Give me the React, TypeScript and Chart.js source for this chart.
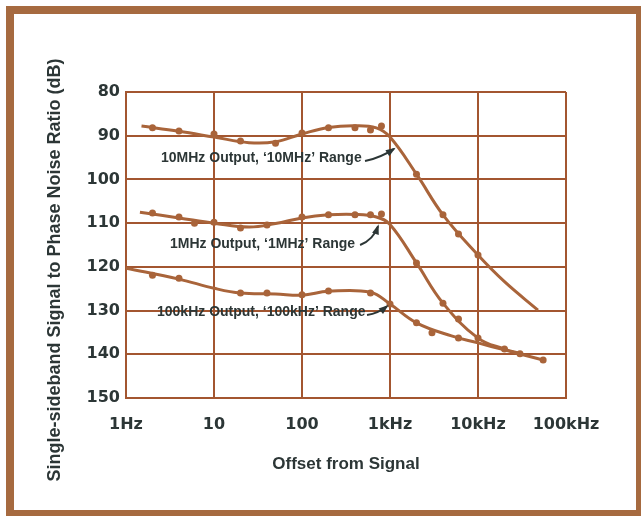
import React, { useEffect, useRef } from "react";
import { Chart, registerables } from "chart.js";

Chart.register(...registerables);

// ---- data (frequency in Hz, ratio in dB) ----
const xTickValues = [1, 10, 100, 1000, 10000, 100000];
const xTickLabels = ["1Hz", "10", "100", "1kHz", "10kHz", "100kHz"];
const yTickValues = [80, 90, 100, 110, 120, 130, 140, 150];

// smooth fitted curves
const curve10MHzFreq = [1.5, 4, 10, 25, 50, 100, 200, 400, 700, 1000, 2000, 4000, 10000, 20000, 48000];
const curve10MHzDb = [87.8, 89.0, 90.3, 91.6, 91.4, 89.6, 88.1, 87.7, 88.2, 90.3, 98.8, 108.1, 117.3, 123.4, 129.9];

const curve1MHzFreq = [1.44, 4, 10, 25, 50, 100, 200, 400, 700, 1000, 2000, 4000, 10000, 20000, 30000];
const curve1MHzDb = [107.5, 108.8, 110.0, 110.9, 110.1, 108.8, 108.1, 108.0, 108.6, 110.3, 119.1, 128.3, 136.3, 138.8, 139.8];

const curve100kHzFreq = [1, 4, 10, 20, 50, 100, 200, 600, 1000, 2000, 5000, 10000, 20000, 55000];
const curve100kHzDb = [120.3, 122.8, 124.9, 126.0, 126.2, 126.5, 125.6, 125.8, 128.5, 132.8, 135.8, 137.4, 139.0, 141.3];

// measured points
const pts10MHzFreq = [2, 4, 10, 20, 50, 100, 200, 400, 600, 800, 2000, 4000, 6000, 10000];
const pts10MHzDb = [88.2, 88.9, 89.6, 91.2, 91.7, 89.4, 88.2, 88.2, 88.7, 87.8, 98.8, 108.1, 112.5, 117.3];

const pts1MHzFreq = [2, 4, 6, 10, 20, 40, 100, 200, 400, 600, 800, 2000, 4000, 6000, 10000];
const pts1MHzDb = [107.7, 108.6, 110.0, 109.8, 111.1, 110.4, 108.6, 108.1, 108.1, 108.1, 107.9, 119.1, 128.3, 131.9, 136.3];

const pts100kHzFreq = [2, 4, 20, 40, 100, 200, 600, 1000, 2000, 3000, 6000, 20000, 30000, 55000];
const pts100kHzDb = [121.9, 122.6, 126.0, 126.0, 126.4, 125.5, 126.0, 128.5, 132.8, 135.1, 136.3, 138.8, 139.9, 141.3];

const yTitle = "Single-sideband Signal to Phase Noise Ratio (dB)";
const xTitle = "Offset from Signal";

// annotation labels: text, anchor freq/dB (left, middle)
const noteTexts = ["10MHz Output, \u201810MHz\u2019 Range", "1MHz Output, \u20181MHz\u2019 Range", "100kHz Output, \u2018100kHz\u2019 Range"];
const noteFreq = [2.5, 3.16, 2.25];
const noteDb = [95.1, 114.8, 130.3];
// arrows: tail & tip (freq, dB), bend in px
const arrowTailFreq = [520, 457, 548];
const arrowTailDb = [95.8, 115.0, 131.0];
const arrowTipFreq = [1110, 731, 925];
const arrowTipDb = [93.0, 110.7, 129.0];
const arrowBend = [3, 6, 3];

const BROWN = "#a9643a";
const GRID = "#a35630";
const TEXT = "#2c3636";
const FRAME = "#a66a40";

const zip = (xs: number[], ys: number[]) => xs.map((x, i) => ({ x, y: ys[i] }));

const overlay = {
  id: "overlay",
  afterDraw(chart: any) {
    const { ctx, scales } = chart;
    const x = scales.x;
    const y = scales.y;
    ctx.save();
    // y-axis title
    ctx.save();
    ctx.translate(55, 270);
    ctx.rotate(-Math.PI / 2);
    ctx.font = 'bold 18px "Liberation Sans", Arial, sans-serif';
    ctx.fillStyle = TEXT;
    ctx.textAlign = "center";
    ctx.textBaseline = "middle";
    ctx.fillText(yTitle, 0, 0);
    ctx.restore();

    // notes
    ctx.font = 'bold 14px "Liberation Sans", Arial, sans-serif';
    ctx.fillStyle = TEXT;
    ctx.textAlign = "left";
    ctx.textBaseline = "middle";
    noteTexts.forEach((t, i) => {
      ctx.fillText(t, x.getPixelForValue(noteFreq[i]), y.getPixelForValue(noteDb[i]));
    });

    // arrows
    ctx.strokeStyle = TEXT;
    ctx.lineWidth = 2;
    arrowTailFreq.forEach((_, i) => {
      const x0 = x.getPixelForValue(arrowTailFreq[i]);
      const y0 = y.getPixelForValue(arrowTailDb[i]);
      const x1 = x.getPixelForValue(arrowTipFreq[i]);
      const y1 = y.getPixelForValue(arrowTipDb[i]);
      const mx = (x0 + x1) / 2;
      const my = (y0 + y1) / 2;
      const dx = x1 - x0;
      const dy = y1 - y0;
      const len = Math.hypot(dx, dy);
      const cx = mx - (dy / len) * arrowBend[i];
      const cy = my + (dx / len) * arrowBend[i];
      ctx.beginPath();
      ctx.moveTo(x0, y0);
      ctx.quadraticCurveTo(cx, cy, x1, y1);
      ctx.stroke();
      const ang = Math.atan2(y1 - cy, x1 - cx);
      const hl = 8;
      const hw = 3.5;
      ctx.beginPath();
      ctx.moveTo(x1 + Math.cos(ang) * 2, y1 + Math.sin(ang) * 2);
      ctx.lineTo(x1 - Math.cos(ang) * hl - Math.sin(ang) * hw, y1 - Math.sin(ang) * hl + Math.cos(ang) * hw);
      ctx.lineTo(x1 - Math.cos(ang) * hl + Math.sin(ang) * hw, y1 - Math.sin(ang) * hl - Math.cos(ang) * hw);
      ctx.closePath();
      ctx.fillStyle = TEXT;
      ctx.fill();
    });
    ctx.restore();
  },
};

export default function App() {
  const ref = useRef<HTMLCanvasElement | null>(null);

  useEffect(() => {
    if (!ref.current) return;
    const lineDs = (xs: number[], ys: number[]) => ({
      type: "line" as const,
      data: zip(xs, ys),
      borderColor: BROWN,
      borderWidth: 3,
      pointRadius: 0,
      tension: 0.4,
      fill: false,
    });
    const ptDs = (xs: number[], ys: number[]) => ({
      type: "scatter" as const,
      data: zip(xs, ys),
      backgroundColor: BROWN,
      borderColor: BROWN,
      pointRadius: 3.5,
      borderWidth: 0,
      showLine: false,
    });
    const chart = new Chart(ref.current, {
      type: "line",
      data: {
        datasets: [
          lineDs(curve10MHzFreq, curve10MHzDb),
          lineDs(curve1MHzFreq, curve1MHzDb),
          lineDs(curve100kHzFreq, curve100kHzDb),
          ptDs(pts10MHzFreq, pts10MHzDb),
          ptDs(pts1MHzFreq, pts1MHzDb),
          ptDs(pts100kHzFreq, pts100kHzDb),
        ] as any,
      },
      options: {
        animation: false,
        responsive: false,
        maintainAspectRatio: false,
        layout: { padding: { top: 92, right: 75, bottom: 0, left: 0 } },
        plugins: { legend: { display: false }, tooltip: { enabled: false } },
        scales: {
          x: {
            type: "logarithmic",
            min: 1,
            max: 100000,
            afterBuildTicks: (s: any) => {
              s.ticks = xTickValues.map((v) => ({ value: v }));
            },
            afterFit: (s: any) => {
              s.height = 118;
            },
            ticks: {
              autoSkip: false,
              maxRotation: 0,
              padding: 17,
              color: TEXT,
              font: { family: '"DejaVu Sans", sans-serif', weight: "bold", size: 16 },
              callback: (v: any) => {
                const i = xTickValues.indexOf(Number(v));
                return i >= 0 ? xTickLabels[i] : "";
              },
            },
            grid: { color: GRID, lineWidth: 2, drawTicks: false },
            border: { display: true, color: GRID, width: 2 },
            title: {
              display: true,
              text: xTitle,
              color: TEXT,
              font: { family: '"Liberation Sans", Arial, sans-serif', weight: "bold", size: 17 },
              padding: { top: 0, bottom: 41 },
            },
          },
          y: {
            type: "linear",
            reverse: true,
            min: 80,
            max: 150,
            afterBuildTicks: (s: any) => {
              s.ticks = yTickValues.map((v) => ({ value: v }));
            },
            afterFit: (s: any) => {
              s.width = 126;
            },
            ticks: {
              padding: 6,
              color: TEXT,
              font: { family: '"DejaVu Sans", sans-serif', weight: "bold", size: 16 },
            },
            grid: { color: GRID, lineWidth: 2, drawTicks: false },
            border: { display: true, color: GRID, width: 2 },
          },
        },
      } as any,
      plugins: [overlay],
    });
    return () => chart.destroy();
  }, []);

  return (
    <div style={{ position: "absolute", left: 0, top: 0, width: 641, height: 516, background: "#fff" }}>
      <div
        style={{
          position: "absolute",
          left: 6,
          top: 6,
          width: 635,
          height: 510,
          boxSizing: "border-box",
          borderStyle: "solid",
          borderColor: FRAME,
          borderWidth: "8px 5px 6px 8px",
        }}
      />
      <canvas ref={ref} width={641} height={516} style={{ position: "absolute", left: 0, top: 0, width: 641, height: 516 }} />
    </div>
  );
}
